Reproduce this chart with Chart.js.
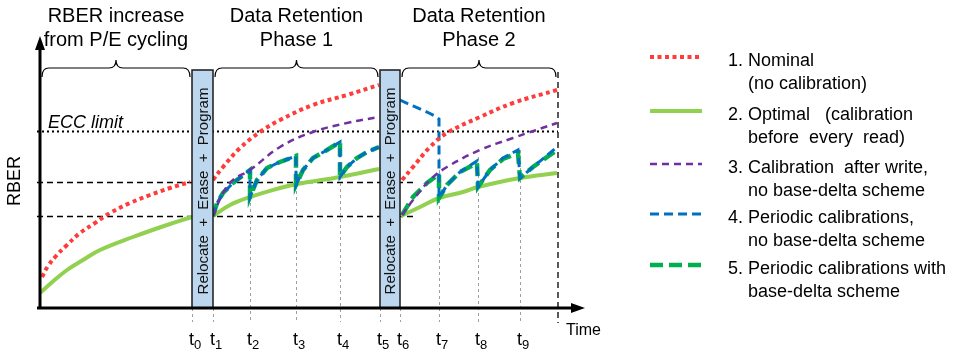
<!DOCTYPE html>
<html>
<head>
<meta charset="utf-8">
<script src="https://cdn.jsdelivr.net/npm/chart.js@4.4.0/dist/chart.umd.min.js"></script>
<style>
  html, body { margin: 0; padding: 0; background: #fff; }
  canvas { display: block; }
</style>
</head>
<body>
<canvas id="rberChart" width="956" height="352"></canvas>
<script>
// schematic: time and RBER are in arbitrary units
const tickNames = ["0", "1", "2", "3", "4", "5", "6", "7", "8", "9"];
const tickTimes = [152, 173, 210, 256, 300, 340, 360, 399, 438, 480];
const tickTops = [0, 0, 111, 123, 131, 0, 0, 150, 151, 158];
const endTime = 518;
const boxSpans = [[152, 173], [340, 360]];
const boxTop = 238;
const phaseSpans = [[0, 152], [173, 340], [360, 518]];
const phaseTitles = [["RBER increase", "from P/E cycling"], ["Data Retention", "Phase 1"], ["Data Retention", "Phase 2"]];
const refLevels = [177, 126, 92];   // ECC limit, two guide levels
const refEnds = [518, 377, 377];

const nominal = [
  [2, 31], [8, 42], [16, 52], [26, 62], [40, 75], [55, 85], [70, 95], [90, 105], [110, 113], [130, 120], [150, 126],
  [160, null],
  [173, 128], [183, 141], [200, 160], [220, 176], [240, 188], [273, 203], [307, 213], [339, 223],
  [350, null],
  [362, 128], [373, 141], [390, 161], [407, 175], [440, 191], [473, 205], [517, 218]
];
const optimal = [
  [0, 15], [10, 24], [27, 38], [43, 48], [60, 58], [93, 71], [127, 83], [152, 91],
  [160, null],
  [173, 92], [190, 103], [210, 111], [240, 120], [257, 124], [300, 131], [339, 139],
  [350, null],
  [361, 92], [380, 101], [399, 110], [423, 116], [438, 121], [480, 130], [517, 135]
];
const afterWrite = [
  [173, 92], [183, 115], [193, 128], [210, 138], [240, 161], [273, 176], [307, 185], [339, 191],
  [350, null],
  [362, 93], [373, 108], [390, 128], [407, 141], [440, 158], [473, 170], [517, 185]
];
const periodic = [
  [173, 92], [177, 105], [183, 115], [193, 125], [210, 138],
  [210, 111], [217, 128], [227, 140], [240, 146], [256, 152],
  [256, 123], [263, 138], [273, 150], [287, 158], [300, 166],
  [300, 131], [307, 141], [317, 150], [327, 156], [339, 161],
  [350, null],
  [360, 208], [373, 202], [387, 196], [395, 192], [399, 189],
  [399, 110], [407, 123], [420, 136], [437, 147],
  [438, 121], [450, 138], [463, 150], [478, 158],
  [480, 130], [493, 141], [517, 161]
];
const baseDelta = [
  [173, 92], [177, 105], [183, 115], [193, 125], [210, 138],
  [210, 111], [217, 128], [227, 140], [240, 146], [256, 152],
  [256, 123], [263, 138], [273, 150], [287, 158], [300, 166],
  [300, 131], [307, 141], [317, 150], [327, 156], [339, 161],
  [350, null],
  [362, 93], [373, 111], [387, 125], [399, 134],
  [399, 110], [407, 123], [420, 136], [437, 145],
  [438, 121], [450, 138], [463, 149], [478, 155],
  [480, 130], [493, 141], [517, 158]
];
const legendText = [
  ["1. Nominal", "(no calibration)"],
  ["2. Optimal   (calibration", "before  every  read)"],
  ["3. Calibration  after write,", "no base-delta scheme"],
  ["4. Periodic calibrations,", "no base-delta scheme"],
  ["5. Periodic calibrations with", "base-delta scheme"]
];

const FONT = "'Liberation Sans', Arial, sans-serif";
const toXY = arr => arr.map(p => ({ x: p[0], y: p[1] }));

const seriesStyle = [
  { label: "Nominal", data: toXY(nominal), borderColor: "#ff3b3b", borderWidth: 4, borderDash: [4, 3.5], tension: 0.4, order: 1 },
  { label: "Optimal", data: toXY(optimal), borderColor: "#92d050", borderWidth: 4, borderDash: [], tension: 0.4, order: 5 },
  { label: "Calibration after write", data: toXY(afterWrite), borderColor: "#7030a0", borderWidth: 2.5, borderDash: [7, 5], tension: 0.4, order: 2 },
  { label: "Periodic", data: toXY(periodic), borderColor: "#0070c0", borderWidth: 3, borderDash: [9, 5], tension: 0, order: 3 },
  { label: "Periodic base-delta", data: toXY(baseDelta), borderColor: "#00b050", borderWidth: 4.5, borderDash: [13, 6], tension: 0, order: 4 }
];

function brace(ctx, x1, x2, yb) {
  const xm = (x1 + x2) / 2, r = 7, h = 8;
  ctx.beginPath();
  ctx.moveTo(x1, yb + h + 1);
  ctx.quadraticCurveTo(x1, yb, x1 + r, yb);
  ctx.lineTo(xm - r, yb);
  ctx.quadraticCurveTo(xm, yb, xm, yb - h);
  ctx.quadraticCurveTo(xm, yb, xm + r, yb);
  ctx.lineTo(x2 - r, yb);
  ctx.quadraticCurveTo(x2, yb, x2, yb + h + 1);
  ctx.stroke();
}

const decor = {
  id: "decor",
  beforeDatasetsDraw(chart) {
    const { ctx, scales: { x, y } } = chart;
    ctx.save();
    // horizontal reference levels
    refLevels.forEach((lv, i) => {
      const py = Math.round(y.getPixelForValue(lv)) + 0.5;
      ctx.beginPath();
      ctx.strokeStyle = "#000";
      if (i === 0) { ctx.lineWidth = 2; ctx.setLineDash([2, 3]); }
      else { ctx.lineWidth = 1.3; ctx.setLineDash([6, 4]); }
      ctx.moveTo(x.getPixelForValue(0) - 3, py);
      ctx.lineTo(x.getPixelForValue(refEnds[i]), py);
      ctx.stroke();
    });
    // grey time markers
    ctx.strokeStyle = "#a0a0a0";
    ctx.lineWidth = 1;
    ctx.setLineDash([3, 3]);
    tickTimes.forEach((t, i) => {
      const px = Math.round(x.getPixelForValue(t)) + 0.5;
      ctx.beginPath();
      ctx.moveTo(px, y.getPixelForValue(tickTops[i]));
      ctx.lineTo(px, y.getPixelForValue(-14));
      ctx.stroke();
    });
    // end of phase 2
    ctx.strokeStyle = "#000";
    ctx.lineWidth = 1.3;
    ctx.setLineDash([6, 4]);
    ctx.beginPath();
    ctx.moveTo(x.getPixelForValue(endTime), y.getPixelForValue(boxTop - 2));
    ctx.lineTo(x.getPixelForValue(endTime), y.getPixelForValue(-15));
    ctx.stroke();
    ctx.restore();
  },
  afterDatasetsDraw(chart) {
    const { ctx, scales: { x, y } } = chart;
    const x0 = x.getPixelForValue(0), y0 = y.getPixelForValue(0);
    ctx.save();
    ctx.setLineDash([]);

    // relocate/erase/program boxes
    boxSpans.forEach(s => {
      const l = x.getPixelForValue(s[0]), r = x.getPixelForValue(s[1]);
      const t = y.getPixelForValue(boxTop);
      ctx.fillStyle = "#bdd7ee";
      ctx.fillRect(l, t, r - l, y0 - t);
      ctx.strokeStyle = "#1a1a1a";
      ctx.lineWidth = 1.5;
      ctx.strokeRect(l, t, r - l, y0 - t);
      ctx.save();
      ctx.translate((l + r) / 2 + 1, y.getPixelForValue(117));
      ctx.rotate(-Math.PI / 2);
      ctx.fillStyle = "#111";
      ctx.font = "15px " + FONT;
      ctx.textAlign = "center";
      ctx.textBaseline = "middle";
      ctx.fillText("Relocate  +  Erase  +  Program", 0, 0);
      ctx.restore();
    });

    // braces and phase titles
    ctx.strokeStyle = "#000";
    ctx.lineWidth = 1.2;
    ctx.fillStyle = "#000";
    ctx.font = "20px " + FONT;
    ctx.textAlign = "center";
    ctx.textBaseline = "alphabetic";
    phaseSpans.forEach((s, i) => {
      const a = x.getPixelForValue(s[0]) + 2, b = x.getPixelForValue(s[1]) - 2;
      brace(ctx, a, b, y.getPixelForValue(boxTop + 2));
      const cx = (a + b) / 2;
      ctx.fillText(phaseTitles[i][0], cx, 22);
      ctx.fillText(phaseTitles[i][1], cx, 46);
    });

    // axes with arrows
    ctx.lineWidth = 3;
    ctx.beginPath();
    ctx.moveTo(x0, y0 + 1);
    ctx.lineTo(x0, chart.chartArea.top + 8);
    ctx.moveTo(x0 - 3, y0);
    ctx.lineTo(chart.chartArea.right - 10, y0);
    ctx.stroke();
    ctx.beginPath();
    ctx.moveTo(x0, chart.chartArea.top - 4);
    ctx.lineTo(x0 - 5, chart.chartArea.top + 10);
    ctx.lineTo(x0 + 5, chart.chartArea.top + 10);
    ctx.closePath();
    ctx.moveTo(chart.chartArea.right + 1, y0);
    ctx.lineTo(chart.chartArea.right - 13, y0 - 5);
    ctx.lineTo(chart.chartArea.right - 13, y0 + 5);
    ctx.closePath();
    ctx.fill();

    // ECC limit label
    ctx.font = "italic 18px " + FONT;
    ctx.textAlign = "left";
    ctx.fillText("ECC limit", 48, 128);

    // axis titles
    ctx.font = "16px " + FONT;
    ctx.fillText("Time", 566, 335);
    ctx.save();
    ctx.translate(20, 181);
    ctx.rotate(-Math.PI / 2);
    ctx.font = "18px " + FONT;
    ctx.textAlign = "center";
    ctx.fillText("RBER", 0, 0);
    ctx.restore();

    // time labels with subscripts
    tickTimes.forEach((t, i) => {
      const px = x.getPixelForValue(t) - 3;
      ctx.font = "18px " + FONT;
      ctx.fillText("t", px, 345);
      const w = ctx.measureText("t").width;
      ctx.font = "13px " + FONT;
      ctx.fillText(tickNames[i], px + w, 349);
    });

    // legend
    const baselines = [66, 120, 173, 223, 274];
    chart.data.datasets.forEach((ds, i) => {
      const ly = baselines[i] - 9;
      ctx.save();
      ctx.strokeStyle = ds.borderColor;
      ctx.lineWidth = ds.borderWidth;
      ctx.setLineDash(ds.borderDash);
      ctx.beginPath();
      ctx.moveTo(650, ly);
      ctx.lineTo(702, ly);
      ctx.stroke();
      ctx.restore();
      ctx.font = "18px " + FONT;
      ctx.fillStyle = "#000";
      ctx.textAlign = "left";
      ctx.fillText(legendText[i][0], 728, baselines[i]);
      ctx.fillText(legendText[i][1], 748, baselines[i] + 23);
    });
    ctx.restore();
  }
};

new Chart(document.getElementById("rberChart"), {
  type: "line",
  data: {
    datasets: seriesStyle.map(s => Object.assign({
      pointRadius: 0,
      borderCapStyle: "butt",
      fill: false,
      spanGaps: false
    }, s))
  },
  options: {
    responsive: false,
    devicePixelRatio: 1,
    animation: false,
    layout: { padding: { left: 40, right: 372, top: 40, bottom: 44 } },
    scales: {
      x: { type: "linear", min: 0, max: 544, display: false },
      y: { type: "linear", min: 0, max: 268, display: false }
    },
    plugins: {
      legend: { display: false },
      tooltip: { enabled: false }
    }
  },
  plugins: [decor]
});
</script>
</body>
</html>
